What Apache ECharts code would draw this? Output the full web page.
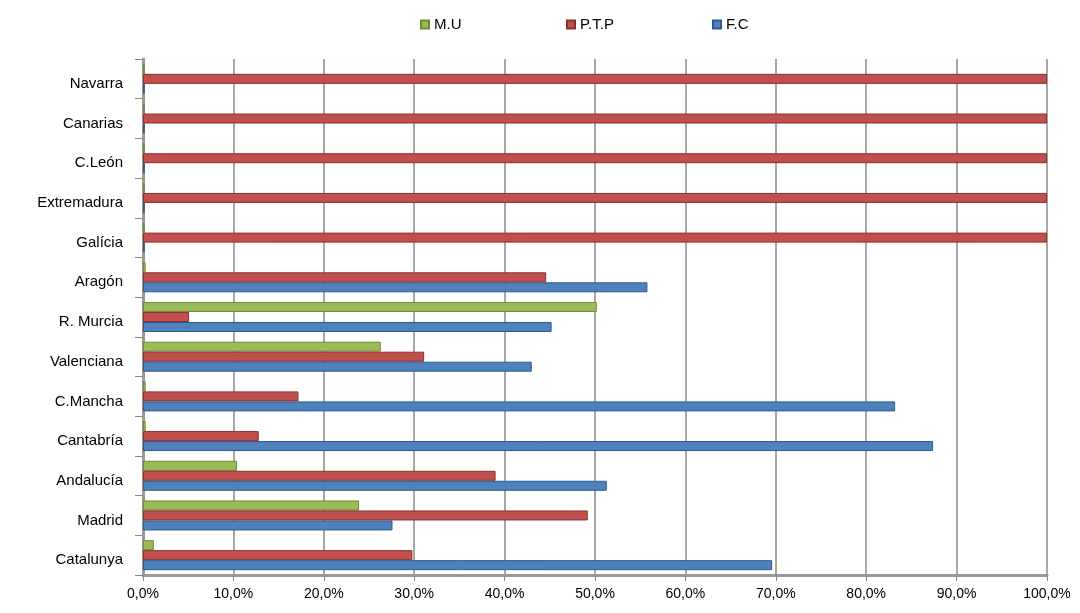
<!DOCTYPE html>
<html>
<head>
<meta charset="utf-8">
<script src="https://cdn.jsdelivr.net/npm/echarts@6/dist/echarts.min.js"></script>
<style>html,body{margin:0;padding:0;background:#fff}#c{width:1080px;height:613px}</style>
</head>
<body>
<div id="c"></div>
<script>
var categories = ['Catalunya','Madrid','Andalucía','Cantabría','C.Mancha','Valenciana','R. Murcia','Aragón','Galícia','Extremadura','C.León','Canarias','Navarra'];
var seriesNames = ['M.U','P.T.P','F.C'];
var valuesMU  = [1.2, 23.9, 10.4, 0.3, 0.3, 26.3, 50.2, 0.3, 0.2, 0.2, 0.2, 0.2, 0.2];
var valuesPTP = [29.8, 49.2, 39.0, 12.8, 17.2, 31.1, 5.1, 44.6, 100, 100, 100, 100, 100];
var valuesFC  = [69.6, 27.6, 51.3, 87.4, 83.2, 43.0, 45.2, 55.8, 0.2, 0.2, 0.2, 0.2, 0.2];
var xTicks = [0,10,20,30,40,50,60,70,80,90,100];

var font = 'Liberation Sans';
var chart = echarts.init(document.getElementById('c'));
function mk(name, data, color, border){
  return {name:name, type:'bar', data:data, barWidth:10, barGap:'0%',
    itemStyle:{color:color, borderColor:border, borderWidth:1}};
}
function lg(name, left){
  return {data:[name], left:left, top:12, itemWidth:8, itemHeight:8, icon:'rect',
    textStyle:{fontFamily:font, fontSize:15, color:'#000'}};
}
chart.setOption({
  animation:false,
  legend:[lg(seriesNames[0],415), lg(seriesNames[1],561), lg(seriesNames[2],707)],
  grid:{left:143, right:33, top:59, bottom:38, containLabel:false},
  xAxis:{type:'value', min:xTicks[0], max:xTicks[xTicks.length-1], interval:10,
    axisLabel:{formatter:function(v){return v.toFixed(1).replace('.',',')+'%';}, fontFamily:font, fontSize:14, color:'#000', margin:12},
    axisLine:{show:true, lineStyle:{color:'#999', width:3}},
    axisTick:{show:true, length:6, lineStyle:{color:'#888'}},
    splitLine:{show:true, lineStyle:{color:'#8a8a8a', width:1.5}}
  },
  yAxis:{type:'category', data:categories,
    axisLabel:{fontFamily:font, fontSize:15, color:'#000', margin:20, verticalAlign:'top', lineHeight:10},
    axisLine:{show:true, lineStyle:{color:'#999', width:3}},
    axisTick:{show:true, length:8, lineStyle:{color:'#888'}}
  },
  series:[
    mk(seriesNames[0], valuesMU, '#9BBB59', '#6f8b35'),
    mk(seriesNames[1], valuesPTP, '#C0504D', '#8c2f2c'),
    mk(seriesNames[2], valuesFC, '#4F81BD', '#2f5a8c')
  ]
});
</script>
</body>
</html>
